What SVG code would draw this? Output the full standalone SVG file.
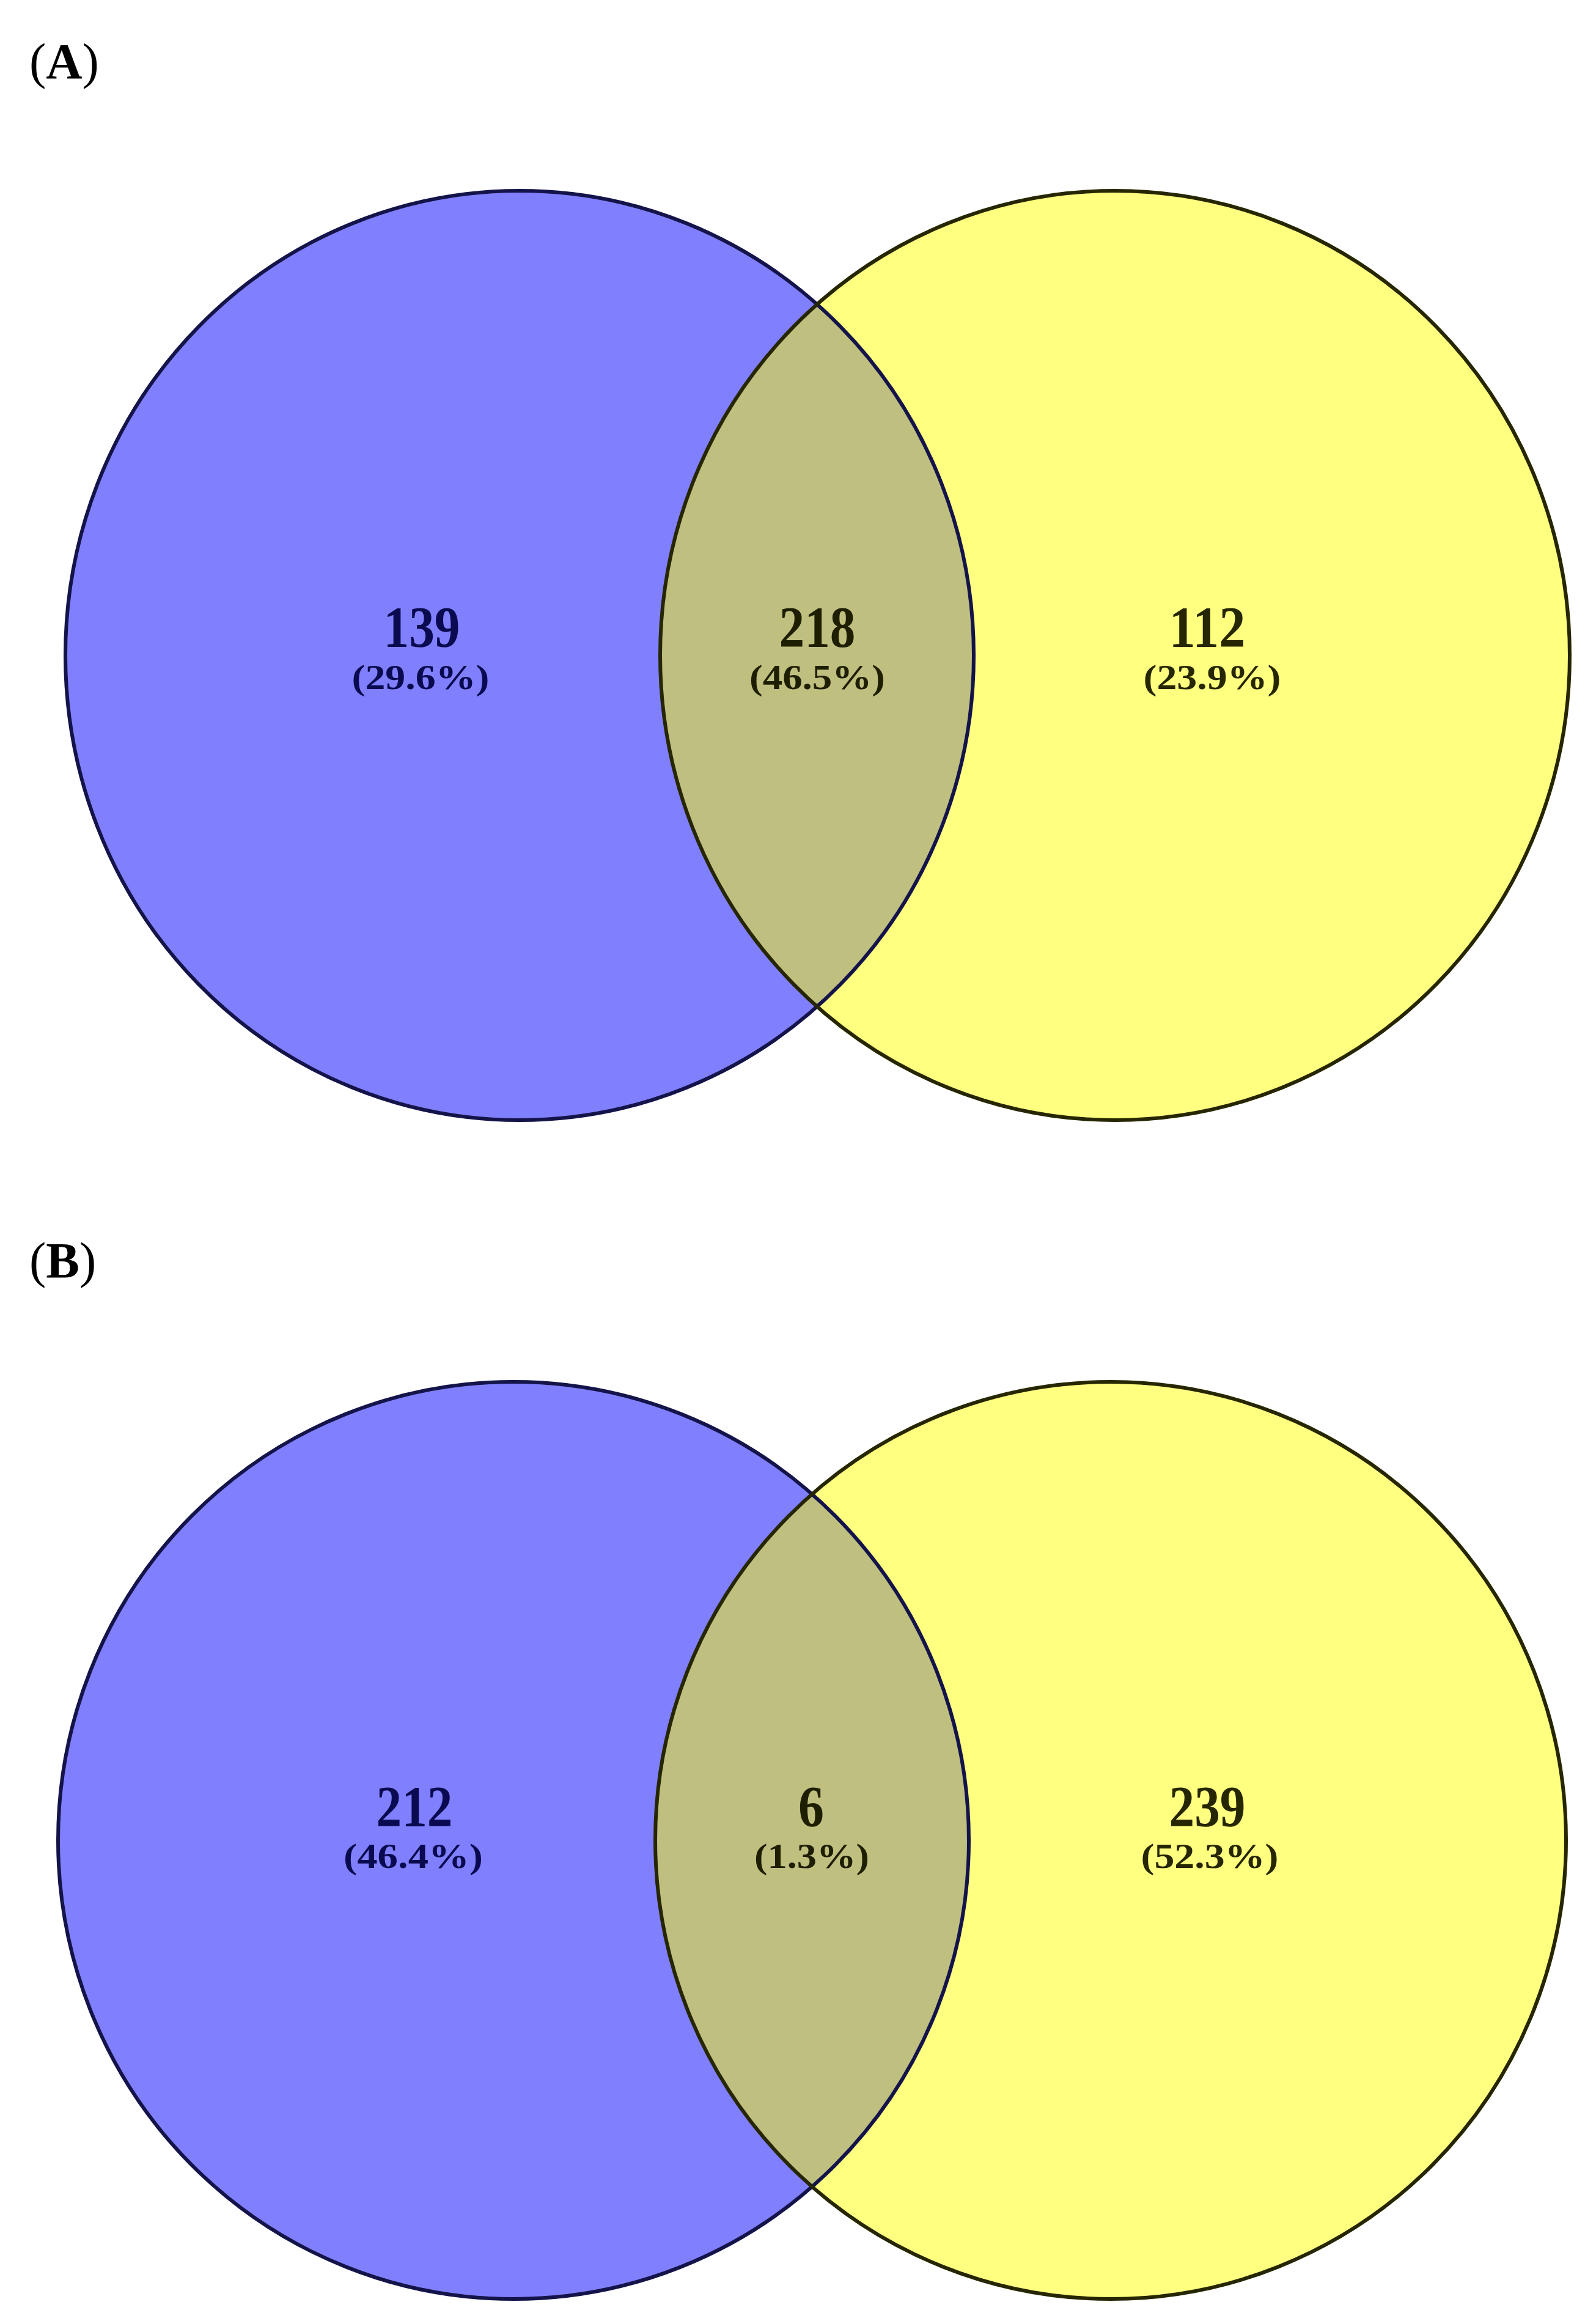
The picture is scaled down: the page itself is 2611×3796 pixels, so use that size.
<svg xmlns="http://www.w3.org/2000/svg" width="2611" height="3796" viewBox="0 0 2611 3796">
  <style>
    .panel { font-family: "Liberation Serif", "Times New Roman", serif; font-size: 82px; fill: #000; }
    .num { font-family: "Liberation Serif", "Times New Roman", serif; font-weight: bold; font-size: 96px; text-anchor: middle; }
    .pct { font-family: "Liberation Serif", "Times New Roman", serif; font-weight: bold; font-size: 58px; text-anchor: middle; }
    .blue { fill: #8080FF; }
    .yellow { fill: #FFFF80; }
    .both { fill: #BFBF80; }
    .sl { fill: none; stroke: #14144A; stroke-width: 6; }
    .sr { fill: none; stroke: #262600; stroke-width: 6; }
    .tl { fill: #0A0A50; }
    .tm { fill: #1E1E00; }
    .tr { fill: #262600; }
  </style>
  <defs>
    <clipPath id="clipA"><ellipse cx="850" cy="1072" rx="743" ry="760"/></clipPath>
    <clipPath id="clipB"><ellipse cx="840" cy="3010" rx="745" ry="750"/></clipPath>
  </defs>
  <rect width="2611" height="3796" fill="#FFFFFF"/>

  <text class="panel" x="48" y="128">(<tspan font-weight="bold">A</tspan>)</text>
  <text class="panel" x="48" y="2089">(<tspan font-weight="bold">B</tspan>)</text>

  <g id="venn-A">
    <g id="A-set1">
      <ellipse class="blue" cx="850" cy="1072" rx="743" ry="760"/>
    </g>
    <g id="A-set2">
      <ellipse class="yellow" cx="1824" cy="1072" rx="744" ry="760"/>
    </g>
    <g id="A-overlap">
      <ellipse class="both" cx="1824" cy="1072" rx="744" ry="760" clip-path="url(#clipA)"/>
    </g>
    <ellipse class="sl" cx="850" cy="1072" rx="743" ry="760"/>
    <ellipse class="sr" cx="1824" cy="1072" rx="744" ry="760"/>
    <text class="num tl" x="690" y="1058" textLength="125" lengthAdjust="spacingAndGlyphs">139</text>
    <text class="pct tl" x="688" y="1127" textLength="225" lengthAdjust="spacingAndGlyphs">(29.6%)</text>
    <text class="num tm" x="1337" y="1058" textLength="125" lengthAdjust="spacingAndGlyphs">218</text>
    <text class="pct tm" x="1337" y="1127" textLength="222" lengthAdjust="spacingAndGlyphs">(46.5%)</text>
    <text class="num tr" x="1975" y="1058" textLength="125" lengthAdjust="spacingAndGlyphs">112</text>
    <text class="pct tr" x="1983" y="1127" textLength="225" lengthAdjust="spacingAndGlyphs">(23.9%)</text>
  </g>

  <g id="venn-B">
    <g id="B-set1">
      <ellipse class="blue" cx="840" cy="3010" rx="745" ry="750"/>
    </g>
    <g id="B-set2">
      <ellipse class="yellow" cx="1817" cy="3010" rx="745" ry="750"/>
    </g>
    <g id="B-overlap">
      <ellipse class="both" cx="1817" cy="3010" rx="745" ry="750" clip-path="url(#clipB)"/>
    </g>
    <ellipse class="sl" cx="840" cy="3010" rx="745" ry="750"/>
    <ellipse class="sr" cx="1817" cy="3010" rx="745" ry="750"/>
    <text class="num tl" x="678" y="2987" textLength="125" lengthAdjust="spacingAndGlyphs">212</text>
    <text class="pct tl" x="676" y="3055" textLength="228" lengthAdjust="spacingAndGlyphs">(46.4%)</text>
    <text class="num tm" x="1327" y="2987" textLength="42" lengthAdjust="spacingAndGlyphs">6</text>
    <text class="pct tm" x="1328" y="3055" textLength="188" lengthAdjust="spacingAndGlyphs">(1.3%)</text>
    <text class="num tr" x="1975" y="2987" textLength="125" lengthAdjust="spacingAndGlyphs">239</text>
    <text class="pct tr" x="1979" y="3055" textLength="225" lengthAdjust="spacingAndGlyphs">(52.3%)</text>
  </g>
</svg>
